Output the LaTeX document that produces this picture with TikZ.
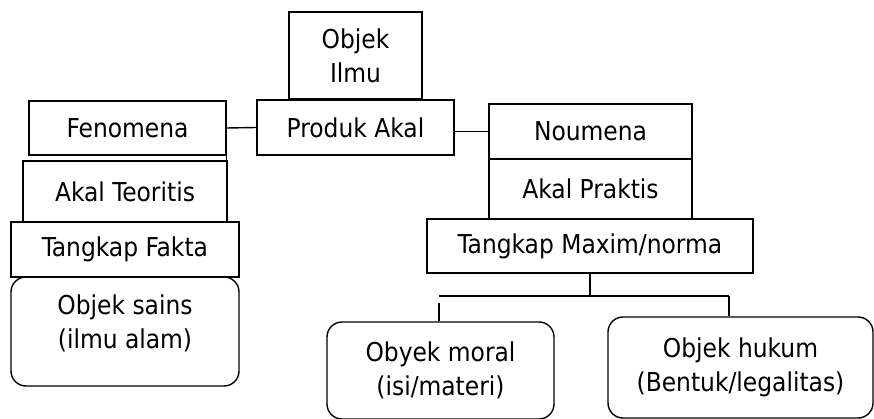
\documentclass[tikz,border=0pt]{standalone}
\usepackage{fontspec}
\setmainfont{DejaVu Sans Condensed}
\begin{document}
\begin{tikzpicture}[x=1pt,y=-1pt,line width=1.4pt,
	kotak/.style={draw,align=center,inner sep=0pt,font=\fontsize{26}{34}\selectfont},
	bulat/.style={kotak,rounded corners=15pt}]
		\useasboundingbox (0,0) rectangle (874,419);
		\node[kotak,minimum width=133,minimum height=87] (ilmu) at (355.5,55.5) {Objek\\Ilmu};
		\node[kotak,minimum width=197,minimum height=55] (produk) at (355.5,127.5) {Produk Akal};
		\node[kotak,minimum width=197,minimum height=54] (fen) at (127.5,128) {Fenomena};
		\node[kotak,minimum width=204,minimum height=61] (teori) at (125,191.5) {Akal Teoritis};
		\node[kotak,minimum width=228,minimum height=55] (fakta) at (125,249.5) {Tangkap Fakta};
		\node[bulat,minimum width=228,minimum height=109,text depth=20pt] (sains) at (125,331.5) {Objek sains\\(ilmu alam)};
		\node[kotak,minimum width=203,minimum height=55] (noumena) at (590.5,131.5) {Noumena};
		\node[kotak,minimum width=203,minimum height=60] (praktis) at (590.5,189) {Akal Praktis};
		\node[kotak,minimum width=326,minimum height=54] (maxim) at (590,246) {Tangkap Maxim/norma};
		\node[bulat,minimum width=227,minimum height=97] (moral) at (440.5,370.5) {Obyek moral\\(isi/materi)};
		\node[bulat,minimum width=265,minimum height=101] (hukum) at (740.5,367.5) {Objek hukum\\(Bentuk/legalitas)};
		\coordinate (kiri) at (439,296);
		\coordinate (kanan) at (729,296);
		\draw (fen.east) -- (produk.west);
		\draw (fen.east) -- (fen.east |- teori.north);
		\draw (produk.east |- noumena.west) -- (noumena.west);
		\draw (maxim.south) -- (maxim.south |- kiri);
		\draw (kiri) -- (kanan);
		\draw ([yshift=-7pt]kiri) -- (moral.north -| kiri);
		\draw (kanan) -- (hukum.north -| kanan);
		\end{tikzpicture}
\end{document}
